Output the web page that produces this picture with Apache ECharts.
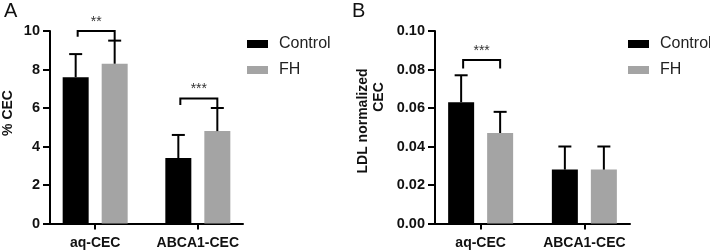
<!DOCTYPE html>
<html>
<head>
<meta charset="utf-8">
<script src="https://cdn.jsdelivr.net/npm/echarts@6/dist/echarts.min.js"></script>
<style>html,body{margin:0;padding:0;background:#fff}#c{width:710px;height:252px}</style>
</head>
<body>
<div id="c"></div>
<script>
// ---- data ----
const categories = ['aq-CEC', 'ABCA1-CEC'];
const seriesNames = ['Control', 'FH'];
const cecControl = [7.6, 3.4];
const cecControlSD = [1.2, 1.2];
const cecFH = [8.3, 4.8];
const cecFHSD = [1.2, 1.2];
const ldlControl = [0.063, 0.028];
const ldlControlSD = [0.014, 0.012];
const ldlFH = [0.047, 0.028];
const ldlFHSD = [0.011, 0.012];
const axisA = { min: 0, max: 10, interval: 2 };
const axisB = { min: 0, max: 0.1, interval: 0.02 };
// significance brackets: [categoryIndex, topY, leftEndY, rightEndY, label]
const sigA = [[0, 10.0, 9.7, 9.5, '**'], [1, 6.5, 6.15, 6.0, '***']];
const sigB = [[0, 0.085, 0.0805, 0.0805, '***']];

// ---- style constants ----
const BAR_W = 26, BAR_GAP = 13;
const OFF = (BAR_W + BAR_GAP) / 2;
const FONT = '"Liberation Sans", Arial, sans-serif';
const BLACK = '#000000', GREY = '#a4a4a4';

const chart = echarts.init(document.getElementById('c'), null, { renderer: 'canvas' });

function errRender(offsetPx) {
  return function (params, api) {
    const x = api.value(0), v = api.value(1), e = api.value(2);
    const p0 = api.coord([x, v]);
    const p1 = api.coord([x, e]);
    const cx = p0[0] + offsetPx;
    return {
      type: 'group',
      children: [
        { type: 'line', shape: { x1: cx, y1: p0[1], x2: cx, y2: p1[1] }, style: { stroke: '#000', lineWidth: 2 } },
        { type: 'line', shape: { x1: cx - 6.5, y1: p1[1], x2: cx + 6.5, y2: p1[1] }, style: { stroke: '#000', lineWidth: 2 } }
      ]
    };
  };
}
function sigRender(params, api) {
  const c = api.value(0);
  const pt = api.coord([c, api.value(1)]);
  const pl = api.coord([c, api.value(2)]);
  const pr = api.coord([c, api.value(3)]);
  const xl = pt[0] - OFF + 2, xr = pt[0] + OFF;
  return {
    type: 'group',
    children: [
      { type: 'polyline', shape: { points: [[xl, pl[1]], [xl, pt[1]], [xr, pt[1]], [xr, pr[1]]] },
        style: { stroke: '#000', lineWidth: 2, fill: null } },
      { type: 'text', x: (xl + xr) / 2, y: pt[1] - 2,
        style: { text: api.value(4), textAlign: 'center', textVerticalAlign: 'bottom',
                 fontSize: 14, fontFamily: FONT, fill: '#333' } }
    ]
  };
}
function errData(vals, sds) { return vals.map((v, i) => [i, v, v + sds[i]]); }
function barData(vals) { return vals.map((v, i) => [i, v]); }

function xAxis(gridIndex) {
  return {
    type: 'value', gridIndex, min: -0.44, max: 1.44,
    splitLine: { show: false },
    axisLine: { show: true, onZero: false, lineStyle: { color: '#000', width: 2 } },
    axisTick: { show: true, length: 6, lineStyle: { color: '#000', width: 2 }, customValues: [0, 1] },
    axisLabel: { customValues: [0, 1], formatter: v => categories[Math.round(v)], margin: 13,
                 fontSize: 14, fontWeight: 'bold', fontFamily: FONT, color: '#111' }
  };
}
function yAxis(gridIndex, ax, digits) {
  return {
    type: 'value', gridIndex, min: ax.min, max: ax.max, interval: ax.interval,
    splitLine: { show: false },
    axisLine: { show: true, onZero: false, lineStyle: { color: '#000', width: 2 } },
    axisTick: { show: true, length: 7, lineStyle: { color: '#000', width: 2 } },
    axisLabel: { margin: 10, fontSize: 14.5, fontWeight: 'bold', fontFamily: FONT, color: '#111',
                 formatter: v => v.toFixed(digits) }
  };
}
function legend(left) {
  return {
    orient: 'vertical', left, top: 31, itemWidth: 21, itemHeight: 8, itemGap: 10,
    icon: 'rect', data: seriesNames, selectedMode: false,
    textStyle: { fontSize: 16, fontFamily: FONT, color: '#222', padding: [0, 0, 0, 6] }
  };
}

chart.setOption({
  animation: false,
  grid: [
    { left: 50, top: 31, width: 193, height: 192.5 },
    { left: 435, top: 31, width: 195, height: 192.5 }
  ],
  xAxis: [xAxis(0), xAxis(1)],
  yAxis: [yAxis(0, axisA, 0), yAxis(1, axisB, 2)],
  legend: [legend(242), legend(623)],
  graphic: [
    { type: 'text', left: 4, top: 1, style: { text: 'A', fontSize: 20, fontFamily: FONT, fill: '#111' } },
    { type: 'text', left: 352, top: 1, style: { text: 'B', fontSize: 20, fontFamily: FONT, fill: '#111' } },
    { type: 'text', x: 8.5, y: 113, rotation: Math.PI / 2,
      style: { text: '% CEC', fontSize: 14, fontWeight: 'bold', fontFamily: FONT, fill: '#111', textAlign: 'center', textVerticalAlign: 'middle' } },
    { type: 'text', x: 363.5, y: 121, rotation: Math.PI / 2,
      style: { text: 'LDL normalized', fontSize: 14, fontWeight: 'bold', fontFamily: FONT, fill: '#111', textAlign: 'center', textVerticalAlign: 'middle' } },
    { type: 'text', x: 379, y: 97, rotation: Math.PI / 2,
      style: { text: 'CEC', fontSize: 14, fontWeight: 'bold', fontFamily: FONT, fill: '#111', textAlign: 'center', textVerticalAlign: 'middle' } }
  ],
  series: [
    { name: seriesNames[0], type: 'bar', xAxisIndex: 0, yAxisIndex: 0, data: barData(cecControl), barWidth: BAR_W, barGap: '50%', itemStyle: { color: BLACK } },
    { name: seriesNames[1], type: 'bar', xAxisIndex: 0, yAxisIndex: 0, data: barData(cecFH), barWidth: BAR_W, barGap: '50%', itemStyle: { color: GREY } },
    { name: seriesNames[0], type: 'bar', xAxisIndex: 1, yAxisIndex: 1, data: barData(ldlControl), barWidth: BAR_W, barGap: '50%', itemStyle: { color: BLACK } },
    { name: seriesNames[1], type: 'bar', xAxisIndex: 1, yAxisIndex: 1, data: barData(ldlFH), barWidth: BAR_W, barGap: '50%', itemStyle: { color: GREY } },
    { name: 'errA0', type: 'custom', xAxisIndex: 0, yAxisIndex: 0, z: 3, renderItem: errRender(-OFF), data: errData(cecControl, cecControlSD) },
    { name: 'errA1', type: 'custom', xAxisIndex: 0, yAxisIndex: 0, z: 3, renderItem: errRender(OFF), data: errData(cecFH, cecFHSD) },
    { name: 'errB0', type: 'custom', xAxisIndex: 1, yAxisIndex: 1, z: 3, renderItem: errRender(-OFF), data: errData(ldlControl, ldlControlSD) },
    { name: 'errB1', type: 'custom', xAxisIndex: 1, yAxisIndex: 1, z: 3, renderItem: errRender(OFF), data: errData(ldlFH, ldlFHSD) },
    { name: 'sigA', type: 'custom', xAxisIndex: 0, yAxisIndex: 0, z: 3, renderItem: sigRender, data: sigA, clip: false },
    { name: 'sigB', type: 'custom', xAxisIndex: 1, yAxisIndex: 1, z: 3, renderItem: sigRender, data: sigB, clip: false }
  ]
});
</script>
</body>
</html>
